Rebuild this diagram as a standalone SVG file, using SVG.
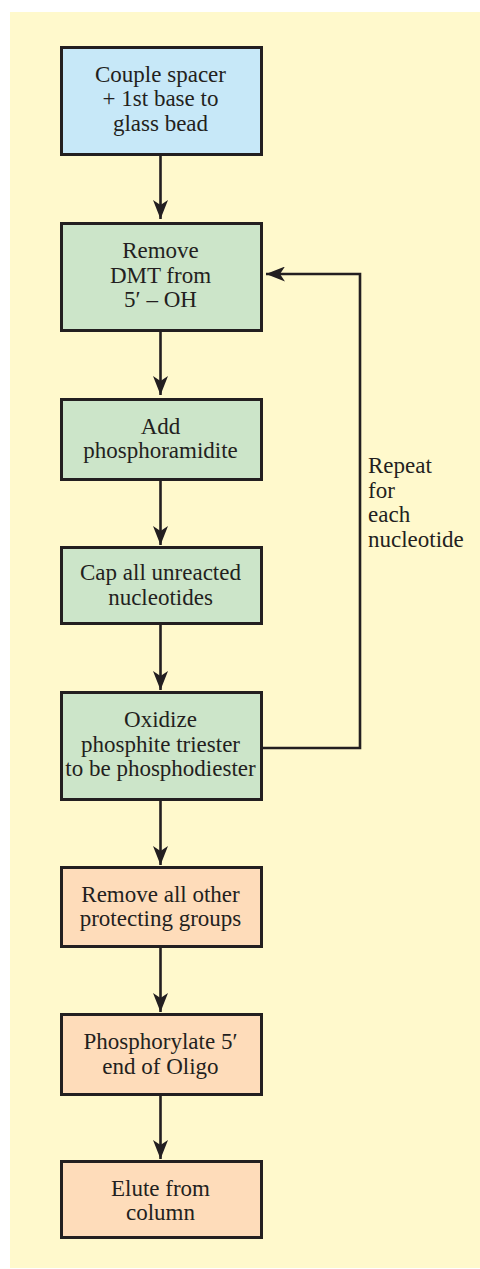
<svg xmlns="http://www.w3.org/2000/svg" width="480" height="1269" viewBox="0 0 480 1269">
<defs>
<marker id="ah" markerUnits="userSpaceOnUse" markerWidth="19" markerHeight="15" refX="19" refY="7.5" orient="auto" viewBox="0 0 19 15">
<path d="M0,0 L19,7.5 L0,15 L5,7.5 z" fill="#231f20"/>
</marker>
<style>
.box{stroke:#231f20;stroke-width:3}
.blue{fill:#c7e8f8}
.green{fill:#cce5c9}
.orange{fill:#fedcba}
.t{font-family:"Liberation Serif","Times New Roman",serif;font-size:23px;fill:#231f20;text-anchor:middle}
.lbl{font-family:"Liberation Serif","Times New Roman",serif;font-size:23px;fill:#231f20}
.c{stroke:#231f20;stroke-width:2.6;fill:none}
</style>
</defs>
<rect x="10" y="12" width="470" height="1256" fill="#fff9cc"/>
<g id="connectors">
<line class="c" x1="160.5" y1="156" x2="160.5" y2="219" marker-end="url(#ah)"/>
<line class="c" x1="160.5" y1="332" x2="160.5" y2="395" marker-end="url(#ah)"/>
<line class="c" x1="160.5" y1="481" x2="160.5" y2="545" marker-end="url(#ah)"/>
<line class="c" x1="160.5" y1="625" x2="160.5" y2="690" marker-end="url(#ah)"/>
<line class="c" x1="160.5" y1="801" x2="160.5" y2="865" marker-end="url(#ah)"/>
<line class="c" x1="160.5" y1="948" x2="160.5" y2="1012" marker-end="url(#ah)"/>
<line class="c" x1="160.5" y1="1096" x2="160.5" y2="1159" marker-end="url(#ah)"/>
<path class="c" d="M263,748 H360 V274 H266" marker-end="url(#ah)"/>
<text class="lbl" x="368" y="473">Repeat</text>
<text class="lbl" x="368" y="497.5">for</text>
<text class="lbl" x="368" y="522">each</text>
<text class="lbl" x="368" y="546.5">nucleotide</text>
</g>
<g id="n1">
<rect class="box blue" x="61.5" y="47.5" width="200" height="107"/>
<text class="t" x="160.5" y="82">Couple spacer</text>
<text class="t" x="160.5" y="106">+ 1st base to</text>
<text class="t" x="160.5" y="131">glass bead</text>
</g>
<g id="n2">
<rect class="box green" x="61.5" y="223.5" width="200" height="107"/>
<text class="t" x="160.5" y="258">Remove</text>
<text class="t" x="160.5" y="282.5">DMT from</text>
<text class="t" x="160.5" y="307">5′ – OH</text>
</g>
<g id="n3">
<rect class="box green" x="61.5" y="399.5" width="200" height="80"/>
<text class="t" x="160.5" y="433.5">Add</text>
<text class="t" x="160.5" y="458">phosphoramidite</text>
</g>
<g id="n4">
<rect class="box green" x="61.5" y="547.5" width="200" height="76"/>
<text class="t" x="160.5" y="580">Cap all unreacted</text>
<text class="t" x="160.5" y="605">nucleotides</text>
</g>
<g id="n5">
<rect class="box green" x="61.5" y="692.5" width="200" height="107"/>
<text class="t" x="160.5" y="727">Oxidize</text>
<text class="t" x="160.5" y="751.5">phosphite triester</text>
<text class="t" x="160.5" y="776">to be phosphodiester</text>
</g>
<g id="n6">
<rect class="box orange" x="61.5" y="867.5" width="200" height="79"/>
<text class="t" x="160.5" y="901.5">Remove all other</text>
<text class="t" x="160.5" y="925.5">protecting groups</text>
</g>
<g id="n7">
<rect class="box orange" x="61.5" y="1014.5" width="200" height="80"/>
<text class="t" x="160.5" y="1048.5">Phosphorylate 5′</text>
<text class="t" x="160.5" y="1073.5">end of Oligo</text>
</g>
<g id="n8">
<rect class="box orange" x="61.5" y="1161.5" width="200" height="76"/>
<text class="t" x="160.5" y="1196">Elute from</text>
<text class="t" x="160.5" y="1220">column</text>
</g>
</svg>
